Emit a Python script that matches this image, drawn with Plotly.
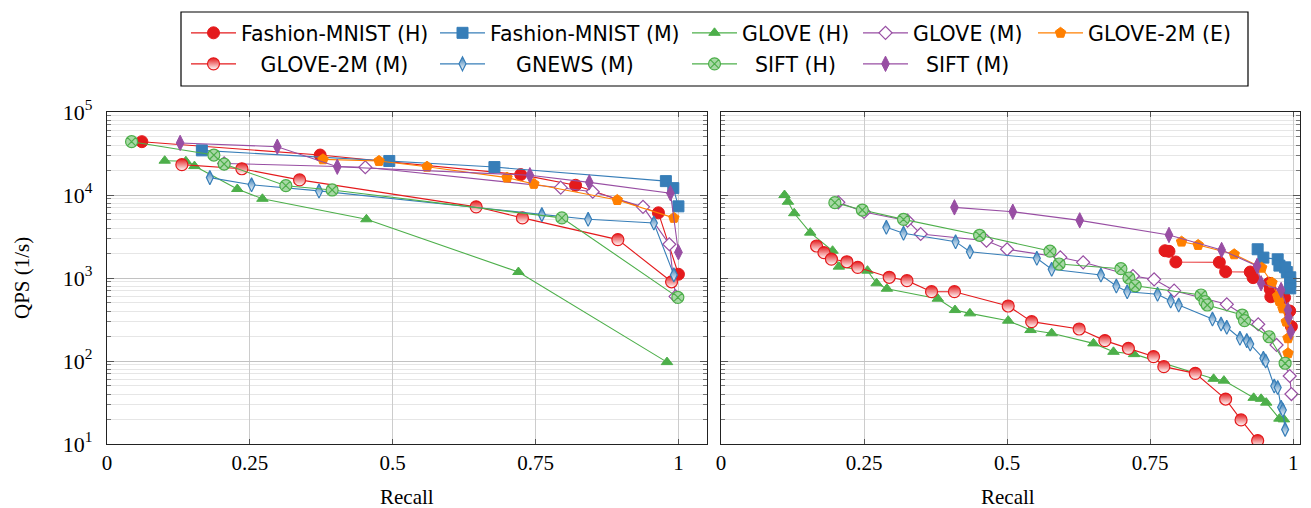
import plotly.graph_objects as go

# ---------------- data (recall, QPS) ----------------
# Left panel
FMNIST_H_L_R = [0.061, 0.373, 0.724, 0.820, 0.965, 1.000]
FMNIST_H_L_Q = [43900, 30300, 17600, 13100, 6100, 1110]
FMNIST_M_L_R = [0.166, 0.494, 0.678, 0.978, 0.991, 1.000]
FMNIST_M_L_Q = [34500, 25700, 21700, 14700, 12100, 7300]
GLOVE_H_L_R = [0.101, 0.138, 0.153, 0.228, 0.272, 0.454, 0.720, 0.980]
GLOVE_H_L_Q = [25900, 25500, 22300, 11800, 9000, 5100, 1180, 97]
GLOVE_M_L_R = [0.205, 0.452, 0.794, 0.850, 0.938, 0.984, 0.995]
GLOVE_M_L_Q = [24000, 21600, 12250, 10950, 7200, 2550, 600]
GLOVE2M_E_L_R = [0.378, 0.476, 0.560, 0.700, 0.747, 0.893, 0.992]
GLOVE2M_E_L_Q = [26900, 25700, 21900, 16200, 13600, 8700, 5300]
GLOVE2M_M_L_R = [0.131, 0.236, 0.337, 0.646, 0.727, 0.894, 0.988]
GLOVE2M_M_L_Q = [23200, 20700, 15200, 7200, 5300, 2900, 900]
GNEWS_M_L_R = [0.180, 0.253, 0.371, 0.761, 0.842, 0.957, 0.992]
GNEWS_M_L_Q = [16200, 13300, 11200, 5800, 5100, 4600, 1090]
SIFT_H_L_R = [0.043, 0.187, 0.205, 0.313, 0.394, 0.796, 0.999]
SIFT_H_L_Q = [43900, 30300, 23600, 12950, 11500, 5300, 585]
SIFT_M_L_R = [0.128, 0.298, 0.403, 0.740, 0.844, 0.986, 1.000]
SIFT_M_L_Q = [42400, 38200, 21900, 17300, 14200, 10500, 2040]

# Right panel
FMNIST_H_R_R = [0.776, 0.783, 0.795, 0.871, 0.882, 0.925, 0.930, 0.958, 0.960, 0.961, 0.985, 0.994, 0.997]
FMNIST_H_R_Q = [2130, 2095, 1560, 1545, 1190, 1180, 1010, 865, 730, 595, 580, 400, 260]
FMNIST_M_R_R = [0.938, 0.948, 0.973, 0.976, 0.986, 0.989, 0.995, 0.995, 0.995]
FMNIST_M_R_Q = [2220, 1760, 1680, 1410, 1345, 1180, 1020, 880, 750]
GLOVE_H_R_R = [0.111, 0.117, 0.128, 0.156, 0.195, 0.206, 0.256, 0.272, 0.290, 0.379, 0.409, 0.435,
               0.502, 0.541, 0.578, 0.651, 0.686, 0.722, 0.861, 0.879, 0.931, 0.944, 0.953, 0.976, 0.984]
GLOVE_H_R_Q = [10000, 8300, 6030, 3520, 2130, 1370, 1225, 863, 743, 563, 411, 375,
               306, 236, 216, 163, 129, 121, 61, 58, 36, 35, 31.5, 20.2, 19.8]
GLOVE_M_R_R = [0.205, 0.250, 0.326, 0.349, 0.464, 0.500, 0.593, 0.633, 0.720, 0.757, 0.792, 0.884,
               0.939, 0.971, 0.994, 0.997]
GLOVE_M_R_Q = [8170, 6240, 4900, 3390, 2810, 2220, 1775, 1545, 1057, 963, 703, 482, 277, 156, 66, 40]
GLOVE2M_E_R_R = [0.805, 0.834, 0.897, 0.945, 0.963, 0.973, 0.976, 0.982, 0.988, 0.991, 0.991]
GLOVE2M_E_R_Q = [2740, 2500, 1930, 1330, 880, 607, 528, 431, 298, 188, 124]
GLOVE2M_M_R_R = [0.167, 0.180, 0.193, 0.220, 0.239, 0.294, 0.325, 0.368, 0.408, 0.502, 0.543, 0.626,
                 0.671, 0.712, 0.756, 0.774, 0.829, 0.882, 0.909, 0.938]
GLOVE2M_M_R_Q = [2430, 2020, 1690, 1570, 1345, 1020, 929, 684, 684, 460, 298, 243,
                 176, 142, 113, 85.5, 71, 34.8, 19.5, 11.0]
GNEWS_M_R_R = [0.289, 0.319, 0.410, 0.435, 0.552, 0.578, 0.664, 0.691, 0.710, 0.763, 0.786, 0.800,
               0.859, 0.874, 0.884, 0.907, 0.919, 0.925, 0.948, 0.952, 0.967, 0.973, 0.979, 0.982, 0.986]
GNEWS_M_R_Q = [4080, 3460, 2740, 2075, 1727, 1273, 1087, 801, 684, 636, 528, 473,
               321, 279, 255, 188, 176, 160, 108, 100, 50, 48, 27.7, 25.7, 15.0]
SIFT_H_R_R = [0.199, 0.247, 0.319, 0.452, 0.575, 0.591, 0.699, 0.713, 0.724, 0.839, 0.846, 0.850,
              0.911, 0.915, 0.958, 0.986]
SIFT_H_R_Q = [8090, 6590, 5090, 3270, 2110, 1475, 1295, 1000, 807, 624, 519, 473, 358, 306, 196, 94]
SIFT_M_R_R = [0.408, 0.510, 0.627, 0.783, 0.875, 0.937, 0.944, 0.979, 0.991, 0.992, 0.996]
SIFT_M_R_Q = [7100, 6290, 4950, 3300, 2175, 1395, 863, 716, 411, 333, 225]

X_TICKS = [0, 0.25, 0.5, 0.75, 1]
X_TICK_TEXT = ["0", "0.25", "0.5", "0.75", "1"]
Y_TICKS = [10, 100, 1000, 10000, 100000]
Y_TICK_TEXT = ["10<sup>1</sup>", "10<sup>2</sup>", "10<sup>3</sup>", "10<sup>4</sup>", "10<sup>5</sup>"]
Y_MINOR = [m * d for d in (10, 100, 1000, 10000) for m in range(2, 10)]

RED, BLUE, GREEN, PURPLE, ORANGE = "#e41a1c", "#377eb8", "#4daf4a", "#984ea3", "#ff7f00"

# the page adds an 8px body margin, so the figure is 8px smaller and all pixel positions shift by 8
OFF = 8
W, H = 1311 - OFF, 508 - OFF


def px(x):
    return (x - OFF) / W


def py(y):
    return 1 - (y - OFF) / H


series = [
    ("Fashion-MNIST (H)", RED, dict(symbol="circle", size=12, color=RED, line=dict(color=RED, width=1)),
     (FMNIST_H_L_R, FMNIST_H_L_Q), (FMNIST_H_R_R, FMNIST_H_R_Q)),
    ("Fashion-MNIST (M)", BLUE, dict(symbol="square", size=11, color=BLUE, line=dict(color=BLUE, width=1)),
     (FMNIST_M_L_R, FMNIST_M_L_Q), (FMNIST_M_R_R, FMNIST_M_R_Q)),
    ("GLOVE (H)", GREEN, dict(symbol="triangle-up", size=10, color=GREEN, line=dict(color=GREEN, width=1)),
     (GLOVE_H_L_R, GLOVE_H_L_Q), (GLOVE_H_R_R, GLOVE_H_R_Q)),
    ("GLOVE (M)", PURPLE, dict(symbol="diamond", size=10, color="white", line=dict(color=PURPLE, width=1.2)),
     (GLOVE_M_L_R, GLOVE_M_L_Q), (GLOVE_M_R_R, GLOVE_M_R_Q)),
    ("GLOVE-2M (E)", ORANGE, dict(symbol="pentagon", size=11, color=ORANGE, line=dict(color=ORANGE, width=1)),
     (GLOVE2M_E_L_R, GLOVE2M_E_L_Q), (GLOVE2M_E_R_R, GLOVE2M_E_R_Q)),
    ("\u00a0\u00a0\u00a0GLOVE-2M (M)", RED,
     dict(symbol="circle", size=12, color=RED, line=dict(color=RED, width=1.2),
          gradient=dict(type="vertical", color="white")),
     (GLOVE2M_M_L_R, GLOVE2M_M_L_Q), (GLOVE2M_M_R_R, GLOVE2M_M_R_Q)),
    ("\u00a0\u00a0\u00a0\u00a0GNEWS (M)", BLUE,
     dict(symbol="diamond-tall", size=10, color=BLUE, line=dict(color=BLUE, width=1.2),
          gradient=dict(type="vertical", color="white")),
     (GNEWS_M_L_R, GNEWS_M_L_Q), (GNEWS_M_R_R, GNEWS_M_R_Q)),
    ("\u00a0\u00a0SIFT (H)", GREEN, dict(symbol="circle-x", size=12, color="#a8d8a6", line=dict(color=GREEN, width=1.2)),
     (SIFT_H_L_R, SIFT_H_L_Q), (SIFT_H_R_R, SIFT_H_R_Q)),
    ("\u00a0\u00a0SIFT (M)", PURPLE, dict(symbol="diamond-tall", size=11, color=PURPLE, line=dict(color=PURPLE, width=1)),
     (SIFT_M_L_R, SIFT_M_L_Q), (SIFT_M_R_R, SIFT_M_R_Q)),
]

# legend positions (px in the reference): symbol start x, row centre y
COL_X = [190, 439, 691, 862, 1037]
ROW_Y = [33, 64]

fig = go.Figure()
for i, (name, color, marker, left, right) in enumerate(series):
    lg = "legend" if i == 0 else f"legend{i + 1}"
    fig.add_trace(go.Scatter(x=left[0], y=left[1], mode="lines+markers", name=name,
                             line=dict(color=color, width=1.1), marker=marker,
                             xaxis="x", yaxis="y", legend=lg, showlegend=True))
    fig.add_trace(go.Scatter(x=right[0], y=right[1], mode="lines+markers", name=name,
                             line=dict(color=color, width=1.1), marker=marker,
                             xaxis="x2", yaxis="y2", legend=lg, showlegend=False))

serif = "Liberation Serif"
legend_layouts = {}
for i in range(len(series)):
    row, col = divmod(i, 5)
    key = "legend" if i == 0 else f"legend{i + 1}"
    legend_layouts[key] = dict(
        x=px(COL_X[col] - 4), y=py(ROW_Y[row]), xref="paper", yref="paper",
        xanchor="left", yanchor="middle", bgcolor="rgba(0,0,0,0)", borderwidth=0,
        font=dict(family="DejaVu Sans", size=20.5, color="black"), itemwidth=45,
    )

ydom = [py(444), py(112)]
common_x = dict(tickmode="array", tickvals=X_TICKS, ticktext=X_TICK_TEXT, showgrid=True,
                gridcolor="#cccccc", gridwidth=1, ticks="inside", ticklen=5, tickcolor="#555",
                mirror="allticks", showline=True, linecolor="#222", linewidth=1.2, zeroline=False,
                tickfont=dict(family=serif, size=21, color="black"))
common_y = dict(type="log", range=[1, 5], domain=ydom, tickmode="array", tickvals=Y_TICKS,
                ticktext=Y_TICK_TEXT, showgrid=True, gridcolor="#c2c2c2", gridwidth=1,
                ticks="inside", ticklen=7, tickcolor="#555", mirror="allticks", showline=True,
                linecolor="#222", linewidth=1.2, zeroline=False,
                tickfont=dict(family=serif, size=22, color="black"),
                minor=dict(tickmode="array", tickvals=Y_MINOR, showgrid=True, gridcolor="#e6e6e6",
                           ticks="inside", ticklen=4, tickcolor="#777"))

fig.update_layout(
    width=W, height=H, margin=dict(l=0, r=0, t=0, b=0, autoexpand=False),
    plot_bgcolor="white", paper_bgcolor="white",
    xaxis=dict(domain=[px(107), px(707)], range=[0, 1.05], anchor="y", **common_x),
    xaxis2=dict(domain=[px(721), px(1300)], range=[0, 1.012], anchor="y2", **common_x),
    yaxis=dict(anchor="x", ticklabelstandoff=9, **common_y),
    yaxis2=dict(anchor="x2", matches="y", showticklabels=False, **common_y),
    showlegend=True,
    **legend_layouts,
    shapes=[dict(type="rect", xref="paper", yref="paper", x0=px(181), x1=px(1248),
                 y0=py(86), y1=py(12), line=dict(color="black", width=1.2))],
    annotations=[
        dict(text="Recall", x=px(407), y=py(497), xref="paper", yref="paper", showarrow=False,
             xanchor="center", yanchor="middle", font=dict(family=serif, size=21, color="black")),
        dict(text="Recall", x=px(1008), y=py(497), xref="paper", yref="paper", showarrow=False,
             xanchor="center", yanchor="middle", font=dict(family=serif, size=21, color="black")),
        dict(text="QPS (1/s)", x=px(22), y=py(278), xref="paper", yref="paper", showarrow=False,
             textangle=-90, xanchor="center", yanchor="middle", font=dict(family=serif, size=21, color="black")),
    ],
)

fig.write_html("out.html")
